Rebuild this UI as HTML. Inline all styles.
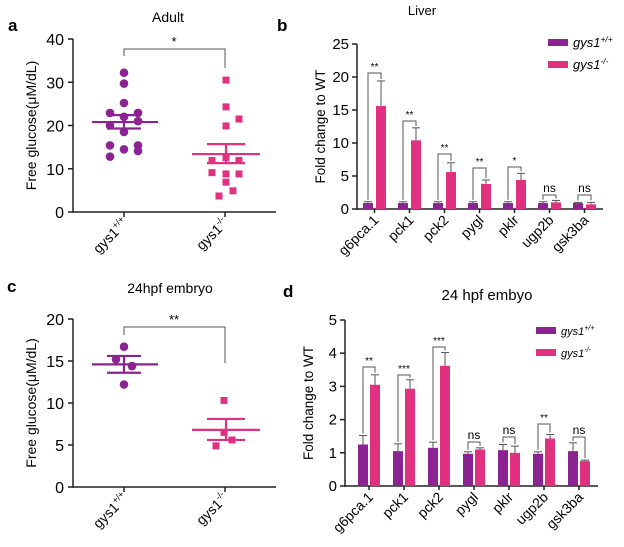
<!DOCTYPE html>
<html><head><meta charset="utf-8"><style>
html,body{margin:0;padding:0;background:#fff}
svg{display:block;font-family:"Liberation Sans",sans-serif}
</style></head><body>
<svg id="s" width="624" height="547" viewBox="0 0 624 547" xmlns="http://www.w3.org/2000/svg"></svg>
<script>
const P='#8b2393',K='#e0307f';
let o='';
const t=(x,y,s,sz,extra='')=>{o+=`<text x="${x}" y="${y}" font-size="${sz}" ${extra}>${s}</text>`;};
const l=(x1,y1,x2,y2,c='#222',w=1.5)=>{o+=`<line x1="${x1}" y1="${y1}" x2="${x2}" y2="${y2}" stroke="${c}" stroke-width="${w}"/>`;};
const r=(x,y,w,h,c)=>{o+=`<rect x="${x}" y="${y}" width="${w}" height="${h}" fill="${c}"/>`;};
const c=(x,y,rr,col)=>{o+=`<circle cx="${x}" cy="${y}" r="${rr}" fill="${col}"/>`;};
t(8,31,'a',17,'font-weight="bold"');t(168,22,'Adult',14,'text-anchor="middle"');
t(277,31,'b',17,'font-weight="bold"');t(422,15,'Liver',13,'text-anchor="middle"');
t(7,292,'c',17,'font-weight="bold"');t(170,293,'24hpf embryo',14,'text-anchor="middle"');
t(283,297,'d',17,'font-weight="bold"');t(487,300,'24 hpf embyo',15,'text-anchor="middle"');
function scat(y0,y1,vmax,step,dots,sq,mP,sP,mK,sK,br,star){
 const Y=v=>y0-(v/vmax)*(y0-y1);
 l(73,y1,73,y0+0.75);l(72.25,y0,276,y0);
 for(let v=0;v<=vmax;v+=step){l(68,Y(v),73,Y(v));t(64,Y(v)+6,v,16,'text-anchor="end"');}
 [124,225].forEach(x=>l(x,y0,x,y0+5));
 o+=`<text transform="translate(129,${y0+12}) rotate(-45)" font-size="14" text-anchor="end">gys1<tspan font-size="9" dy="-6">+/+</tspan></text>`;
 o+=`<text transform="translate(229,${y0+12}) rotate(-45)" font-size="14" text-anchor="end">gys1<tspan font-size="9" dy="-6">-/-</tspan></text>`;
 o+=`<text transform="translate(36,${(y0+y1)/2}) rotate(-90)" font-size="14" text-anchor="middle">Free glucose(μM/dL)</text>`;
 dots.forEach(d=>c(d[0],Y(d[1]),4.3,P));
 sq.forEach(d=>r(d[0]-3.5,Y(d[1])-3.5,7,7,K));
 l(92,Y(mP),158,Y(mP),P,2.2);l(107,Y(sP[0]),141,Y(sP[0]),P,2.2);l(107,Y(sP[1]),141,Y(sP[1]),P,2.2);l(124,Y(sP[0]),124,Y(sP[1]),P,2.2);
 l(192,Y(mK),260,Y(mK),K,2.2);l(207,Y(sK[0]),245,Y(sK[0]),K,2.2);l(207,Y(sK[1]),245,Y(sK[1]),K,2.2);l(226,Y(sK[0]),226,Y(sK[1]),K,2.2);
 o+=`<polyline points="124,${br[1]} 124,${br[0]} 225,${br[0]} 225,${br[2]}" fill="none" stroke="#555" stroke-width="1"/>`;
 t(174,br[0]-3,star,13,'text-anchor="middle"');
}
scat(212,39,40,10,[[124,32.2],[124,29.7],[124,25.2],[110,22.9],[138,22.9],[124,22.0],[138,21],[110,20],[124,18.5],[110,15.4],[138,15.4],[124,14.5],[138,14.1],[110,12.8]],
 [[226,30.5],[226,24.3],[226,19.9],[239,21.5],[212,11.9],[226,12.6],[239,11.9],[212,9.1],[226,8.8],[239,8.8],[226,6.9],[233,4.9],[219,3.7]],
 20.8,[22.4,19.3],13.4,[15.7,11.3],[49,56,68],'*');
scat(487,319,20,5,[[124,16.7],[116,15.2],[132,14.4],[124,12.2]],[[224,10.3],[224,6.5],[216,4.9],[232,5.6]],
 14.6,[15.6,13.6],6.8,[8.1,5.6],[327,335,363],'**');
const genes=['g6pca.1','pck1','pck2','pygl','pklr','ugp2b','gsk3ba'];
function bars(ax,y0,y1,vmax,step,pl,pw,kl,data,brs,stars,lx,ly,fs){
 const Y=v=>y0-(v/vmax)*(y0-y1);
 l(ax,y1,ax,y0+0.75);l(ax-0.75,y0,ax===357?603:598,y0);
 for(let v=0;v<=vmax;v+=step){l(ax-5,Y(v),ax,Y(v));t(ax-8,Y(v)+5,v,15,'text-anchor="end"');}
 o+=`<text transform="translate(${ax-32},${(y0+y1)/2}) rotate(-90)" font-size="13.5" text-anchor="middle">Fold change to WT</text>`;
 data.forEach((d,i)=>{
  const px=pl+35*i,kx=kl+35*i;
  r(px,Y(d[0]),pw,y0-Y(d[0]),P);r(kx,Y(d[2]),pw,y0-Y(d[2]),K);
  l(px+pw/2,Y(d[0]),px+pw/2,Y(d[1]),'#555',1);l(px+pw/2-4,Y(d[1]),px+pw/2+4,Y(d[1]),'#555',1);
  l(kx+pw/2,Y(d[2]),kx+pw/2,Y(d[3]),'#555',1);l(kx+pw/2-4,Y(d[3]),kx+pw/2+4,Y(d[3]),'#555',1);
  const a=px+pw/2,b=kx+pw/2,cx=(a+b)/2;
  o+=`<polyline points="${a},${Y(d[1])-2} ${a},${brs[i]} ${b},${brs[i]} ${b},${Y(d[3])-2}" fill="none" stroke="#555" stroke-width="1"/>`;
  t(cx,brs[i]-3,stars[i],stars[i]=='ns'?12:10,'text-anchor="middle"');
  l(cx,y0,cx,y0+4);
  o+=`<text transform="translate(${cx+5},${y0+12}) rotate(-45)" font-size="14" text-anchor="end">${genes[i]}</text>`;
 });
 r(lx,ly,20,7,P);r(lx,ly+22,20,7,K);
 o+=`<text x="${lx+25}" y="${ly+8}" font-size="${fs}" font-style="italic">gys1<tspan font-size="${fs*0.65}" dy="-5">+/+</tspan></text>`;
 o+=`<text x="${lx+25}" y="${ly+30}" font-size="${fs}" font-style="italic">gys1<tspan font-size="${fs*0.65}" dy="-5">-/-</tspan></text>`;
}
bars(357,209,44,25,5,363,10,376,[[0.9,1.1,15.6,19.4],[0.9,1.1,10.4,12.3],[0.9,1.1,5.6,7.0],[0.9,1.1,3.8,4.4],[0.9,1.1,4.4,5.4],[0.9,1.1,1.0,1.3],[0.9,1.0,0.7,1.0]],
 [73,121,154,168,167,195,195],['**','**','**','**','*','ns','ns'],548,39,13);
bars(345,486,320,5,1,358,10,370,[[1.25,1.52,3.05,3.35],[1.05,1.27,2.93,3.2],[1.15,1.32,3.62,4.02],[0.97,1.03,1.1,1.15],[1.08,1.25,1.0,1.2],[0.97,1.03,1.43,1.55],[1.05,1.3,0.75,0.78]],
 [367,375,347,442,437,424,437],['**','***','***','ns','ns','**','ns'],536,327,11);
document.getElementById('s').innerHTML=o;
</script>
</body></html>
